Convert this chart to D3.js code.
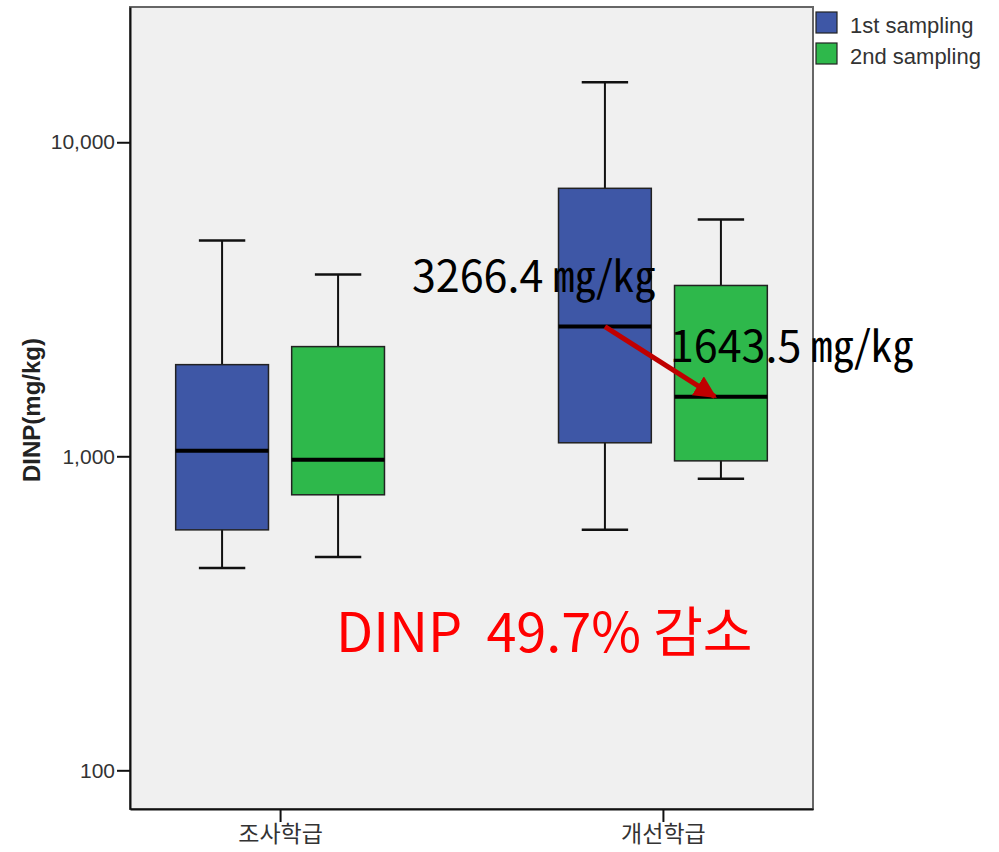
<!DOCTYPE html>
<html>
<head>
<meta charset="utf-8">
<script src="https://cdn.jsdelivr.net/npm/d3@7"></script>
<style>
  body { margin: 0; background: #ffffff; }
  svg { display: block; }
</style>
</head>
<body>
<div id="chart"></div>
<script>
// DINP box plot, two classrooms, two sampling rounds (log scale)

const groups = ['조사학급', '개선학급'];
const series = ['1st sampling', '2nd sampling'];

// box statistics, one row per group, one column per sampling
const whiskerLow = [[441, 478], [583, 848]];
const q1Values = [[583, 754], [1104, 967]];
const medianValues = [[1041, 975], [2589, 1548]];
const q3Values = [[1958, 2235], [7134, 3499]];
const whiskerHigh = [[4868, 3793], [15540, 5680]];

const yTicks = [100, 1000, 10000];

const annotationStart = '3266.4 ㎎/㎏';
const annotationEnd = '1643.5 ㎎/㎏';
const changeText = 'DINP  49.7% 감소';

(function() {
  const width = 999;
  const height = 852;
  const plot = { left: 130, right: 813, top: 7, bottom: 809 };

  const textColor = '#222222';
  const colors = ['#3e57a6', '#2eb84b'];

  const svg = d3.select('#chart')
    .append('svg')
    .attr('width', width)
    .attr('height', height);

  // scales
  const x = d3.scalePoint()
    .domain(groups)
    .range([plot.left, plot.right])
    .padding(0.392);

  const xSub = d3.scaleBand()
    .domain(series)
    .range([-116, 116]);

  const y = d3.scaleLog()
    .domain([75.3, 26960])
    .range([plot.bottom, plot.top]);

  // plot background
  svg.append('rect')
    .attr('x', plot.left)
    .attr('y', plot.top)
    .attr('width', plot.right - plot.left)
    .attr('height', plot.bottom - plot.top)
    .attr('fill', '#f0f0f0')
    .attr('stroke', '#666666')
    .attr('stroke-width', 2);

  // y axis
  const yAxis = d3.axisLeft(y)
    .tickValues(yTicks)
    .tickFormat(d3.format(','))
    .tickSize(13)
    .tickSizeOuter(0)
    .tickPadding(2);

  const yAxisGroup = svg.append('g')
    .attr('transform', `translate(${plot.left}, 0)`)
    .call(yAxis);

  yAxisGroup.select('.domain')
    .attr('stroke', '#111111')
    .attr('stroke-width', 2);

  yAxisGroup.selectAll('.tick line')
    .attr('stroke', '#111111')
    .attr('stroke-width', 2);

  yAxisGroup.selectAll('.tick text')
    .style('font-family', '"Liberation Sans", Arial, sans-serif')
    .style('font-size', '21px')
    .style('fill', '#333333');

  // x axis
  const xAxis = d3.axisBottom(x)
    .tickSize(13)
    .tickSizeOuter(0)
    .tickPadding(4);

  const xAxisGroup = svg.append('g')
    .attr('transform', `translate(0, ${plot.bottom})`)
    .call(xAxis);

  xAxisGroup.select('.domain')
    .attr('stroke', '#111111')
    .attr('stroke-width', 2);

  xAxisGroup.selectAll('.tick line')
    .attr('stroke', '#111111')
    .attr('stroke-width', 2);

  xAxisGroup.selectAll('.tick text')
    .style('font-family', '"Noto Sans CJK KR", sans-serif')
    .style('font-size', '23px')
    .style('fill', '#333333');

  // y axis title
  svg.append('text')
    .attr('transform', `translate(40, 410) rotate(-90)`)
    .attr('text-anchor', 'middle')
    .style('font-family', '"Liberation Sans", Arial, sans-serif')
    .style('font-size', '24px')
    .style('font-weight', '700')
    .style('fill', textColor)
    .text('DINP(mg/kg)');

  // flatten the box data
  const boxes = [];
  groups.forEach((g, gi) => {
    series.forEach((s, si) => {
      boxes.push({
        group: g,
        series: s,
        color: colors[si],
        low: whiskerLow[gi][si],
        q1: q1Values[gi][si],
        median: medianValues[gi][si],
        q3: q3Values[gi][si],
        high: whiskerHigh[gi][si]
      });
    });
  });

  const boxWidth = xSub.bandwidth() * 0.8;
  const capWidth = boxWidth / 2;
  const cx = d => x(d.group) + xSub(d.series) + xSub.bandwidth() / 2;

  const boxGroups = svg.selectAll('.box')
    .data(boxes)
    .enter()
    .append('g')
    .attr('class', 'box');

  // whiskers
  boxGroups.append('line')
    .attr('x1', cx)
    .attr('x2', cx)
    .attr('y1', d => y(d.high))
    .attr('y2', d => y(d.low))
    .attr('stroke', '#111111')
    .attr('stroke-width', 2);

  boxGroups.append('line')
    .attr('x1', d => cx(d) - capWidth / 2)
    .attr('x2', d => cx(d) + capWidth / 2)
    .attr('y1', d => y(d.high))
    .attr('y2', d => y(d.high))
    .attr('stroke', '#111111')
    .attr('stroke-width', 2.5);

  boxGroups.append('line')
    .attr('x1', d => cx(d) - capWidth / 2)
    .attr('x2', d => cx(d) + capWidth / 2)
    .attr('y1', d => y(d.low))
    .attr('y2', d => y(d.low))
    .attr('stroke', '#111111')
    .attr('stroke-width', 2.5);

  // boxes
  boxGroups.append('rect')
    .attr('x', d => cx(d) - boxWidth / 2)
    .attr('y', d => y(d.q3))
    .attr('width', boxWidth)
    .attr('height', d => y(d.q1) - y(d.q3))
    .attr('fill', d => d.color)
    .attr('stroke', '#222222')
    .attr('stroke-width', 1.5);

  // medians
  boxGroups.append('line')
    .attr('x1', d => cx(d) - boxWidth / 2)
    .attr('x2', d => cx(d) + boxWidth / 2)
    .attr('y1', d => y(d.median))
    .attr('y2', d => y(d.median))
    .attr('stroke', '#000000')
    .attr('stroke-width', 4);

  // legend
  const legend = svg.append('g')
    .attr('transform', 'translate(816, 12)');

  const legendItems = legend.selectAll('.legend-item')
    .data(series)
    .enter()
    .append('g')
    .attr('class', 'legend-item')
    .attr('transform', (d, i) => `translate(0, ${i * 31})`);

  legendItems.append('rect')
    .attr('width', 21)
    .attr('height', 21)
    .attr('fill', (d, i) => colors[i])
    .attr('stroke', '#222222')
    .attr('stroke-width', 1.2);

  legendItems.append('text')
    .attr('x', 34)
    .attr('y', 13)
    .attr('dominant-baseline', 'central')
    .style('font-family', '"Liberation Sans", Arial, sans-serif')
    .style('font-size', '22px')
    .style('fill', '#333333')
    .text(d => d);

  // arrow between the medians of the improved classroom
  const defs = svg.append('defs');
  defs.append('marker')
    .attr('id', 'arrow-head')
    .attr('viewBox', '0 0 10 10')
    .attr('refX', 9)
    .attr('refY', 5)
    .attr('markerWidth', 4.5)
    .attr('markerHeight', 4.5)
    .attr('orient', 'auto')
    .append('path')
    .attr('d', 'M0,0 L10,5 L0,10 Z')
    .attr('fill', '#c00000');

  const startBox = boxes[2];
  const endBox = boxes[3];

  svg.append('line')
    .attr('x1', cx(startBox))
    .attr('y1', y(startBox.median))
    .attr('x2', cx(endBox) - 6)
    .attr('y2', y(endBox.median))
    .attr('stroke', '#c00000')
    .attr('stroke-width', 5)
    .attr('marker-end', 'url(#arrow-head)');

  // value annotations
  const annotationFont = '"Noto Sans CJK KR", "Noto Sans", sans-serif';

  svg.append('text')
    .attr('x', 412)
    .attr('y', 292)
    .style('font-family', annotationFont)
    .style('font-size', '43px')
    .style('fill', '#000000')
    .text(annotationStart);

  svg.append('text')
    .attr('x', 670)
    .attr('y', 362)
    .style('font-family', annotationFont)
    .style('font-size', '43px')
    .style('fill', '#000000')
    .text(annotationEnd);

  svg.append('text')
    .attr('x', 336)
    .attr('y', 652)
    .attr('xml:space', 'preserve')
    .style('white-space', 'pre')
    .style('font-family', annotationFont)
    .style('font-size', '54px')
    .style('fill', '#ff0000')
    .text(changeText);
})();
</script>
</body>
</html>
